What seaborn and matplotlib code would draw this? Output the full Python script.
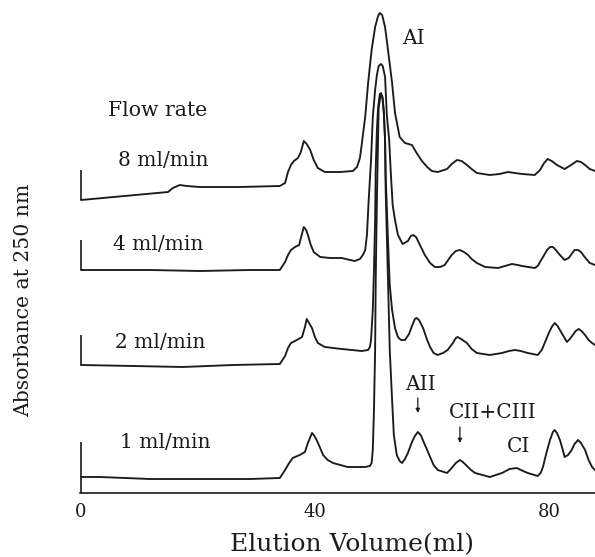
import matplotlib
matplotlib.use("Agg")
import matplotlib.pyplot as plt
from matplotlib.ticker import FixedLocator, MultipleLocator
import numpy as np
import pandas as pd
import seaborn as sns

# Elution volume (ml) and detector response (relative absorbance units) per flow rate
vol_8 = [0.0, 14.9, 15.7, 16.9, 18.1, 20.3, 27.2, 34.0, 34.9, 35.4, 35.9, 36.4, 37.1, 37.6, 38.1,
         38.6, 39.2, 39.8, 40.5, 41.7, 44.3, 46.5, 47.2, 47.7, 48.0, 48.6, 49.1, 49.7, 50.3, 50.8,
         51.1, 51.5, 52.0, 52.5, 53.2, 53.7, 54.5, 55.4, 56.6, 57.4, 58.3, 59.2, 60.0, 61.0, 62.6,
         63.4, 64.3, 65.1, 66.0, 66.8, 67.7, 69.9, 71.6, 73.0, 74.2, 75.4, 77.6, 78.5, 79.2, 79.8,
         80.5, 81.4, 82.7, 83.8, 84.8, 85.5, 86.2, 87.0, 87.9]
abs_8 = [293, 301, 305, 308, 307, 306, 306, 307, 310, 321, 328, 332, 335, 341, 352,
         349, 343, 333, 325, 321, 321, 322, 326, 335, 348, 376, 410, 443, 466, 477,
         480, 478, 466, 443, 410, 380, 356, 350, 348, 340, 332, 326, 322, 321, 324,
         329, 333, 332, 328, 324, 320, 318, 319, 321, 320, 319, 318, 323, 330, 334,
         332, 328, 324, 328, 332, 331, 328, 324, 322]

vol_4 = [0.0, 11.8, 20.3, 28.9, 34.0, 34.9, 35.4, 35.9, 36.6, 37.3, 37.6, 38.1, 38.5, 38.8,
         39.3, 39.8, 40.9, 42.6, 44.6, 46.0, 46.8, 47.7, 48.2, 48.6, 48.9, 49.2, 49.6, 49.9,
         50.3, 50.6, 50.9, 51.3, 51.6, 52.0, 52.3, 52.7, 53.0, 53.3, 53.7, 54.2, 55.0, 55.9,
         56.4, 56.8, 57.3, 57.8, 58.8, 59.7, 60.5, 61.4, 62.2, 62.9, 63.4, 64.1, 64.8, 65.5,
         66.2, 66.8, 67.7, 69.1, 71.3, 72.5, 73.7, 74.7, 75.4, 77.6, 78.1, 78.6, 79.2, 79.7,
         80.2, 80.7, 81.2, 81.9, 82.7, 83.4, 83.9, 84.4, 85.0, 85.5, 86.0, 87.0, 87.9]
abs_4 = [223, 223, 222, 223, 223, 231, 238, 243, 246, 248, 255, 266, 263, 258,
         248, 241, 236, 235, 235, 233, 232, 234, 238, 243, 258, 293, 333, 376,
         403, 418, 427, 429, 427, 416, 378, 353, 318, 288, 273, 258, 249, 252,
         257, 258, 256, 250, 238, 230, 226, 226, 228, 234, 238, 242, 243, 241,
         238, 234, 230, 226, 225, 227, 229, 228, 227, 225, 227, 232, 238, 243,
         246, 246, 243, 238, 233, 235, 239, 243, 243, 241, 237, 230, 228]

vol_2 = [0.0, 8.9, 17.4, 26.0, 34.0, 34.9, 35.4, 35.9, 36.9, 37.8, 38.3, 38.6, 39.0, 39.5,
         40.0, 40.5, 41.7, 44.6, 48.0, 49.1, 49.4, 49.6, 49.7, 49.9, 50.1, 50.3, 50.4, 50.6,
         50.8, 51.1, 51.5, 51.8, 52.0, 52.1, 52.5, 52.8, 53.2, 53.7, 54.2, 54.7, 55.4, 56.1,
         56.6, 57.1, 57.4, 57.8, 58.5, 59.2, 59.7, 60.3, 61.0, 61.9, 62.7, 63.6, 64.1, 64.4,
         65.0, 66.0, 66.8, 67.7, 69.9, 72.0, 73.2, 74.2, 75.2, 76.4, 78.1, 78.8, 79.3, 80.0,
         80.5, 81.0, 81.5, 81.9, 82.6, 83.1, 83.6, 84.1, 84.6, 85.1, 85.6, 86.2, 86.8, 87.4, 87.9]
abs_2 = [128, 127, 126, 128, 129, 137, 145, 150, 153, 156, 166, 174, 170, 165,
         156, 150, 146, 144, 142, 143, 146, 153, 163, 183, 223, 273, 323, 363,
         385, 399, 397, 381, 353, 318, 253, 208, 183, 165, 156, 153, 153, 159,
         167, 174, 175, 173, 165, 153, 146, 140, 138, 140, 143, 150, 155, 156,
         154, 150, 144, 140, 138, 140, 142, 143, 142, 140, 138, 143, 150, 160,
         166, 170, 167, 163, 156, 151, 154, 158, 162, 164, 162, 158, 153, 150, 148]

vol_1 = [0.0, 3.3, 11.8, 20.3, 28.9, 34.0, 34.9, 35.6, 36.2, 37.4, 38.3, 38.8, 39.5, 39.8,
         40.3, 40.9, 41.4, 42.2, 43.1, 45.6, 48.6, 49.4, 49.7, 49.9, 50.1, 50.3, 50.4, 50.6,
         50.8, 50.9, 51.3, 51.6, 51.8, 52.0, 52.1, 52.5, 52.8, 53.2, 53.5, 54.0, 54.5, 54.9,
         55.4, 55.9, 56.6, 57.1, 57.6, 58.1, 58.6, 59.2, 59.7, 60.3, 61.0, 62.6, 63.4, 64.1,
         64.8, 65.3, 66.0, 66.7, 67.4, 69.9, 72.0, 73.3, 74.5, 75.6, 76.4, 78.1, 78.6, 79.0,
         79.5, 80.2, 80.7, 81.0, 81.4, 81.9, 82.4, 82.7, 83.3, 83.9, 84.4, 85.0, 85.5, 86.2,
         86.8, 87.4, 87.9]
abs_1 = [16, 16, 14, 14, 14, 15, 23, 30, 35, 38, 41, 50, 60, 58,
         53, 45, 38, 33, 30, 26, 26, 27, 30, 43, 83, 143, 213, 293,
         353, 385, 400, 395, 378, 353, 303, 213, 143, 93, 58, 38, 32, 30,
         34, 40, 51, 57, 61, 58, 51, 43, 36, 28, 23, 20, 25, 30,
         33, 31, 27, 23, 20, 16, 20, 24, 25, 22, 20, 17, 20, 26,
         38, 53, 61, 63, 60, 53, 43, 36, 38, 43, 49, 53, 50, 43,
         33, 26, 23]

flow_rates = ["8 ml/min", "4 ml/min", "2 ml/min", "1 ml/min"]
volumes = [vol_8, vol_4, vol_2, vol_1]
responses = [abs_8, abs_4, abs_2, abs_1]

x_ticks_major = [0, 40, 80]
x_tick_labels = ["0", "40", "80"]

peak_labels = [("AI", 56.8, 454), ("AII", 58.1, 108), ("CII+CIII", 70.4, 81), ("CI", 74.9, 46)]
peak_arrows = [(57.6, 95, 80), (64.8, 66, 50)]

# Long-form table for seaborn
frames = []
for name, v, a in zip(flow_rates, volumes, responses):
    frames.append(pd.DataFrame({"volume": v, "absorbance": a, "flow": name, "order": range(len(v))}))
df = pd.concat(frames, ignore_index=True)

sns.set_style("white")
plt.rcParams["font.family"] = ["DejaVu Serif"]

ink = "#1b1b1b"
fig = plt.figure(figsize=(5.95, 5.57), dpi=100)
ax = fig.add_axes([80 / 595, (557 - 493) / 557, 515 / 595, 493 / 557])

sns.lineplot(data=df, x="volume", y="absorbance", hue="flow", units="flow", estimator=None,
             sort=False, palette=[ink] * 4, legend=False, linewidth=1.35, ax=ax)

# Short vertical start marker at the beginning of each trace
bar_len = 30
for i, a in enumerate(responses):
    lo = 0 if i == len(responses) - 1 else a[0]
    ax.plot([0, 0], [lo, a[0] + bar_len + (5 if i == len(responses) - 1 else 0)],
            color=ink, lw=1.2, solid_capstyle="butt")

ax.set_xlim(-0.17, 87.9)
ax.set_ylim(0, 493)
ax.set_xlabel("")
ax.set_ylabel("")
ax.set_yticks([])
for s in ["left", "top", "right"]:
    ax.spines[s].set_visible(False)
ax.spines["bottom"].set_linewidth(1.2)
ax.spines["bottom"].set_color(ink)

ax.xaxis.set_major_locator(FixedLocator(x_ticks_major))
ax.set_xticklabels(x_tick_labels)
ax.xaxis.set_minor_locator(MultipleLocator(8))
ax.tick_params(axis="x", which="major", direction="in", length=6, width=1.2, color=ink,
               labelsize=13, pad=7, labelcolor=ink)
ax.tick_params(axis="x", which="minor", direction="in", length=3.5, width=1.0, color=ink)

# Flow-rate legend written beside each trace
ax.text(4.6, 383, "Flow rate", fontsize=14.7, va="center", ha="left", color=ink)
label_pos = [(6.3, 333), (5.5, 249), (5.8, 151), (6.7, 51)]
for name, (lx, ly) in zip(flow_rates, label_pos):
    ax.text(lx, ly, name, fontsize=14.5, va="center", ha="left", color=ink)

for txt, lx, ly in peak_labels:
    ax.text(lx, ly, txt, fontsize=14.5, va="center", ha="center", color=ink)
for ax_x, y0, y1 in peak_arrows:
    ax.annotate("", xy=(ax_x, y1), xytext=(ax_x, y0),
                arrowprops=dict(arrowstyle="-|>", lw=0.9, color=ink, mutation_scale=6,
                                shrinkA=0, shrinkB=0))

fig.text(352 / 595, 1 - 545 / 557, "Elution Volume(ml)", fontsize=18, ha="center", va="center",
         color=ink)
fig.text(24 / 595, 1 - 300 / 557, "Absorbance at 250 nm", fontsize=14.7, rotation=90,
         ha="center", va="center", color=ink)

fig.savefig("out.png", dpi=100, facecolor="white")
